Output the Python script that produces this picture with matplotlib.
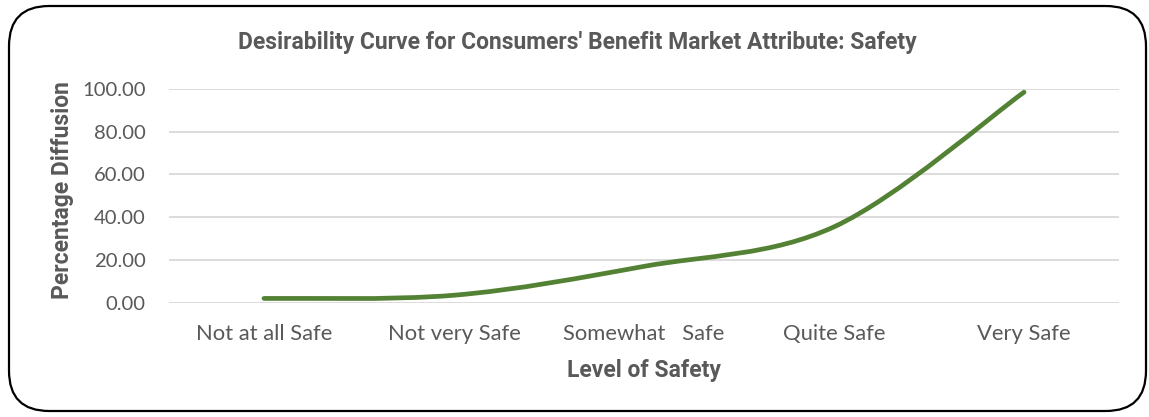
import numpy as np
import matplotlib
matplotlib.use("Agg")
import matplotlib.pyplot as plt
from matplotlib.patches import FancyBboxPatch
from matplotlib.path import Path
from matplotlib.patches import PathPatch

categories = ["Not at all Safe", "Not very Safe", "Somewhat   Safe", "Quite Safe", "Very Safe"]
values = [2.0, 3.5, 17.0, 35.5, 98.5]
yticks = [0, 20, 40, 60, 80, 100]

title = "Desirability Curve for Consumers' Benefit Market Attribute: Safety"
xlabel = "Level of Safety"
ylabel = "Percentage Diffusion"

W, H = 1149, 417
fig = plt.figure(figsize=(W / 100, H / 100), dpi=100)
fig.patch.set_facecolor("white")

# rounded outer border
border = FancyBboxPatch((9 / W, 6 / H), (1137 / W), (405 / H),
                        boxstyle="round,pad=0,rounding_size=0.035",
                        transform=fig.transFigure, fill=False,
                        edgecolor="black", linewidth=1.6, mutation_aspect=W / H)
fig.patches.append(border)

ax = fig.add_axes([169 / W, 1 - 302.7 / H, (1119 - 169) / W, (302.7 - 89) / H])
ax.set_xlim(-0.5, len(categories) - 0.5)
ax.set_ylim(0, 100)

# Excel-style smoothed line (cubic Bezier through points)
x = np.arange(len(values), dtype=float)
y = np.array(values, dtype=float)
pts = np.column_stack([x, y])
verts = [tuple(pts[0])]
codes = [Path.MOVETO]
n = len(pts)
for i in range(n - 1):
    p0 = pts[i - 1] if i > 0 else pts[i]
    p1 = pts[i]
    p2 = pts[i + 1]
    p3 = pts[i + 2] if i + 2 < n else pts[i + 1]
    c1 = p1 + (p2 - p0) / 6.0
    c2 = p2 - (p3 - p1) / 6.0
    verts += [tuple(c1), tuple(c2), tuple(p2)]
    codes += [Path.CURVE4, Path.CURVE4, Path.CURVE4]
path = Path(verts, codes)
ax.add_patch(PathPatch(path, facecolor="none", edgecolor="#548235",
                       linewidth=3.4, capstyle="round", joinstyle="round", zorder=3))

ax.set_yticks(yticks)
ax.set_yticklabels([f"{v:.2f}" for v in yticks])
ax.set_xticks(x)
ax.set_xticklabels(categories)
ax.grid(axis="y", color="#d9d9d9", linewidth=1.3)
ax.set_axisbelow(True)
for s in ax.spines.values():
    s.set_visible(False)
ax.tick_params(axis="both", length=0, colors="#595959")
ax.tick_params(axis="x", pad=15, labelsize=15.8)
ax.tick_params(axis="y", pad=17, labelsize=14.6)
for lab in ax.get_xticklabels() + ax.get_yticklabels():
    lab.set_fontfamily(["Lato", "DejaVu Sans"])

narrow = ["Roboto", "DejaVu Sans"]
fig.text(577 / W, 1 - 43 / H, title, ha="center", va="center", fontsize=16.5,
         fontweight="bold", color="#595959", family=narrow)
fig.text(644 / W, 1 - 371 / H, xlabel, ha="center", va="center", fontsize=16.5,
         fontweight="bold", color="#595959", family=narrow)
fig.text(62 / W, 1 - 190 / H, ylabel, ha="center", va="center", fontsize=16.5,
         fontweight="bold", color="#595959", family=narrow, rotation=90)

fig.savefig("out.png", dpi=100)
